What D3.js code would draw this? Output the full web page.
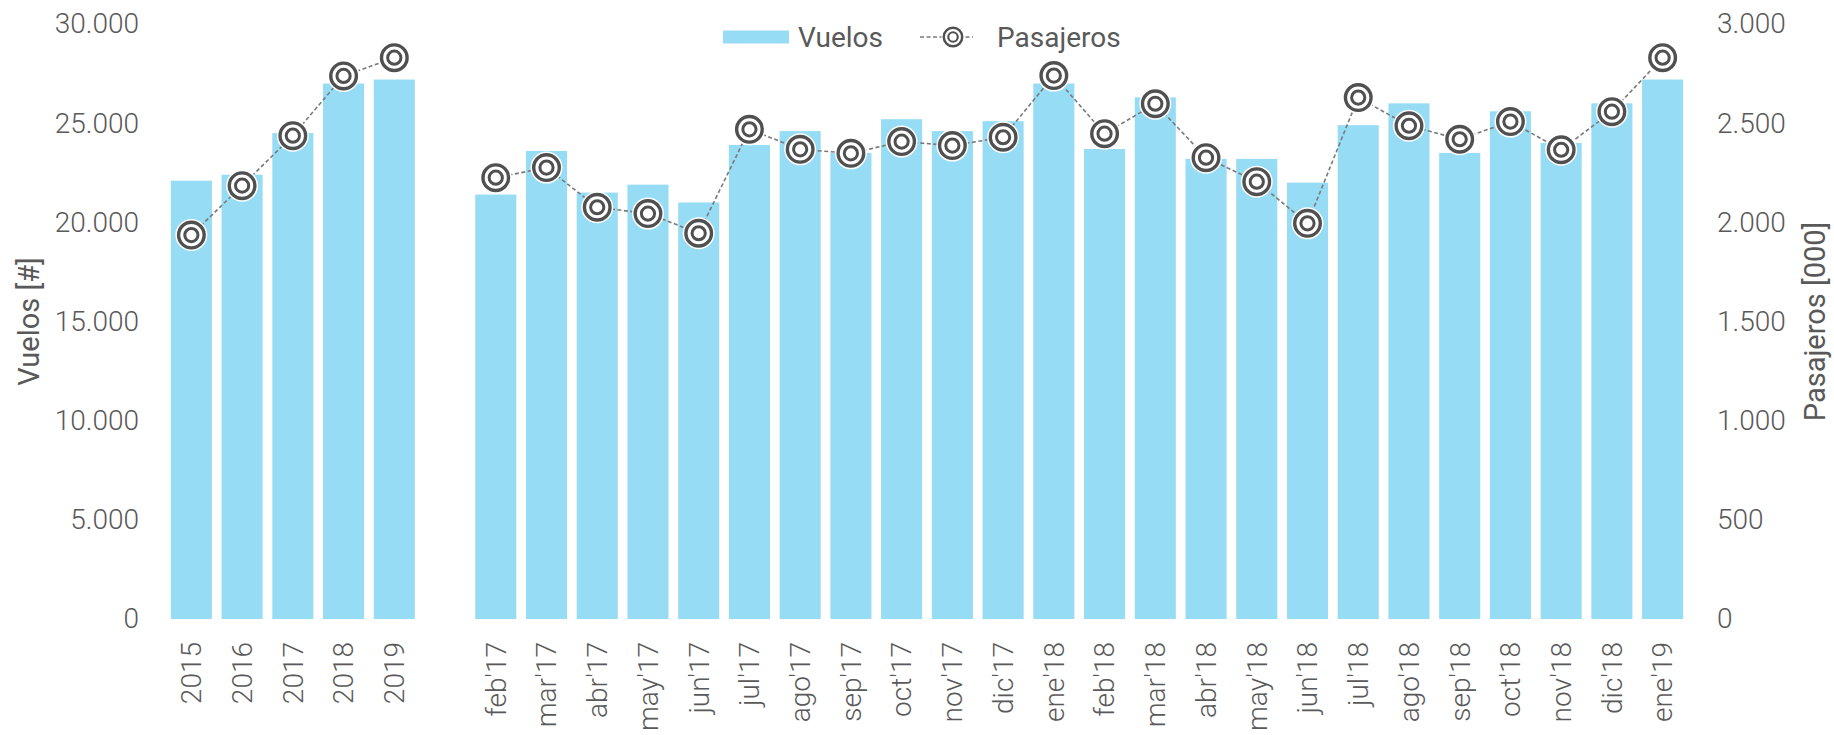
<!DOCTYPE html>
<html>
<head>
<meta charset="utf-8">
<script src="https://cdn.jsdelivr.net/npm/d3@7"></script>
<style>
  body { margin: 0; background: #fff; }
  text { font-family: Roboto, "Noto Sans", sans-serif; fill: #595959; }
</style>
</head>
<body>
<div id="chart"></div>
<script>
// yearly totals
var years = ['2015', '2016', '2017', '2018', '2019'];
var vuelosYear = [22100, 22400, 24500, 27000, 27200];
var pasajerosYear = [1936, 2185, 2437, 2738, 2830];

// monthly figures
var months = ["feb'17", "mar'17", "abr'17", "may'17", "jun'17", "jul'17", "ago'17", "sep'17",
  "oct'17", "nov'17", "dic'17", "ene'18", "feb'18", "mar'18", "abr'18", "may'18",
  "jun'18", "jul'18", "ago'18", "sep'18", "oct'18", "nov'18", "dic'18", "ene'19"];
var vuelosMonth = [21400, 23600, 21500, 21900, 21000, 23900, 24600, 23500,
  25200, 24600, 25100, 27000, 23700, 26300, 23200, 23200,
  22000, 24900, 26000, 23500, 25600, 24000, 26000, 27200];
var pasajerosMonth = [2225, 2276, 2076, 2044, 1945, 2469, 2368, 2348,
  2407, 2387, 2429, 2740, 2447, 2598, 2326, 2205,
  1995, 2629, 2487, 2419, 2508, 2366, 2558, 2830];

var leftTicks = [0, 5000, 10000, 15000, 20000, 25000, 30000];
var rightTicks = [0, 500, 1000, 1500, 2000, 2500, 3000];

(function () {

  var margin = { top: 24, left: 166, right: 146, bottom: 116 },
      height = 735 - margin.top - margin.bottom,
      width = 1834 - margin.left - margin.right;

  var svg = d3.select("#chart")
    .append("svg")
    .attr("height", height + margin.top + margin.bottom)
    .attr("width", width + margin.left + margin.right)
    .append("g")
    .attr("transform", "translate(" + margin.left + "," + margin.top + ")");

  // spanish number format: 30.000
  var es = d3.formatLocale({ decimal: ",", thousands: ".", grouping: [3], currency: ["", "€"] });
  var fmt = es.format(",d");

  var yearRows = years.map(function (d, i) {
    return { label: d, vuelos: vuelosYear[i], pasajeros: pasajerosYear[i] };
  });
  var monthRows = months.map(function (d, i) {
    return { label: d, vuelos: vuelosMonth[i], pasajeros: pasajerosMonth[i] };
  });

  // one empty slot between the years and the months
  var domain = years.concat(['gap']).concat(months);

  var xPositionScale = d3.scaleBand()
    .domain(domain)
    .range([0, width])
    .paddingInner(0.19)
    .paddingOuter(0.095);

  var yPositionScale = d3.scaleLinear()
    .domain([0, 30000])
    .range([height, 0]);

  var yRightScale = d3.scaleLinear()
    .domain([0, 3000])
    .range([height, 0]);

  // bars
  svg.selectAll(".bar")
    .data(yearRows.concat(monthRows))
    .enter().append("rect")
    .attr("class", "bar")
    .attr("x", function (d) { return xPositionScale(d.label) })
    .attr("width", xPositionScale.bandwidth())
    .attr("y", function (d) { return yPositionScale(d.vuelos) })
    .attr("height", function (d) { return height - yPositionScale(d.vuelos) })
    .attr("fill", "#97dcf5");

  // dashed lines, years and months drawn apart
  var line = d3.line()
    .x(function (d) { return xPositionScale(d.label) + xPositionScale.bandwidth() / 2 })
    .y(function (d) { return yRightScale(d.pasajeros) });

  svg.selectAll(".pas-line")
    .data([yearRows, monthRows])
    .enter().append("path")
    .attr("class", "pas-line")
    .attr("d", line)
    .attr("fill", "none")
    .attr("stroke", "#7a7a7a")
    .attr("stroke-width", 1.6)
    .attr("stroke-dasharray", "4,2.5");

  function drawMarker(sel, k) {
    sel.append("circle").attr("r", 16 * k).attr("fill", "#fff");
    sel.append("circle").attr("r", 12.8 * k).attr("fill", "none")
      .attr("stroke", "#505050").attr("stroke-width", 3.4 * k);
    sel.append("circle").attr("r", 6.6 * k).attr("fill", "none")
      .attr("stroke", "#505050").attr("stroke-width", 3 * k);
  }

  svg.selectAll(".marker")
    .data(yearRows.concat(monthRows))
    .enter().append("g")
    .attr("class", "marker")
    .attr("transform", function (d) {
      return "translate(" + (xPositionScale(d.label) + xPositionScale.bandwidth() / 2) + "," + yRightScale(d.pasajeros) + ")"
    })
    .each(function () { drawMarker(d3.select(this), 1) });

  // axes
  var yAxis = d3.axisLeft(yPositionScale)
    .tickValues(leftTicks)
    .tickFormat(fmt)
    .tickSize(0)
    .tickPadding(27);
  svg.append("g")
    .attr("class", "axis y-axis")
    .call(yAxis);

  var yRightAxis = d3.axisRight(yRightScale)
    .tickValues(rightTicks)
    .tickFormat(fmt)
    .tickSize(0)
    .tickPadding(29);
  svg.append("g")
    .attr("class", "axis y-right")
    .attr("transform", "translate(" + width + ",0)")
    .call(yRightAxis);

  var xAxis = d3.axisBottom(xPositionScale)
    .tickSize(0)
    .tickFormat(function (d) { return d === 'gap' ? '' : d });
  svg.append("g")
    .attr("class", "axis x-axis")
    .attr("transform", "translate(0," + height + ")")
    .call(xAxis)
    .selectAll("text")
    .attr("transform", "rotate(-90)")
    .attr("x", -23)
    .attr("y", 0)
    .attr("dy", "0.35em")
    .style("text-anchor", "end");

  svg.selectAll(".axis .domain").remove();
  svg.selectAll(".axis text")
    .attr("font-size", 28)
    .attr("font-weight", 300)
    .attr("font-family", "Roboto")
    .attr("fill", "#595959");

  // axis titles
  svg.append("text")
    .attr("transform", "rotate(-90)")
    .attr("x", -height / 2)
    .attr("y", 29 - margin.left)
    .attr("dy", "0.35em")
    .attr("text-anchor", "middle")
    .attr("font-size", 29)
    .text("Vuelos [#]");

  svg.append("text")
    .attr("transform", "rotate(-90)")
    .attr("x", -height / 2)
    .attr("y", width + 1815 - 1688)
    .attr("dy", "0.35em")
    .attr("text-anchor", "middle")
    .attr("font-size", 29)
    .text("Pasajeros [000]");

  // legend
  var legend = svg.append("g")
    .attr("transform", "translate(" + (723 - margin.left) + "," + (37 - margin.top) + ")");

  legend.append("rect")
    .attr("x", 0).attr("y", -6.5)
    .attr("width", 66).attr("height", 13)
    .attr("fill", "#97dcf5");
  legend.append("text")
    .attr("x", 75).attr("dy", "0.35em")
    .attr("font-size", 28)
    .text("Vuelos");

  legend.append("line")
    .attr("x1", 197).attr("x2", 250)
    .attr("stroke", "#7a7a7a")
    .attr("stroke-width", 1.6)
    .attr("stroke-dasharray", "4,2.5");
  drawMarker(legend.append("g").attr("transform", "translate(230,0)"), 0.72);
  legend.append("text")
    .attr("x", 274).attr("dy", "0.35em")
    .attr("font-size", 28)
    .text("Pasajeros");

})()
</script>
</body>
</html>
